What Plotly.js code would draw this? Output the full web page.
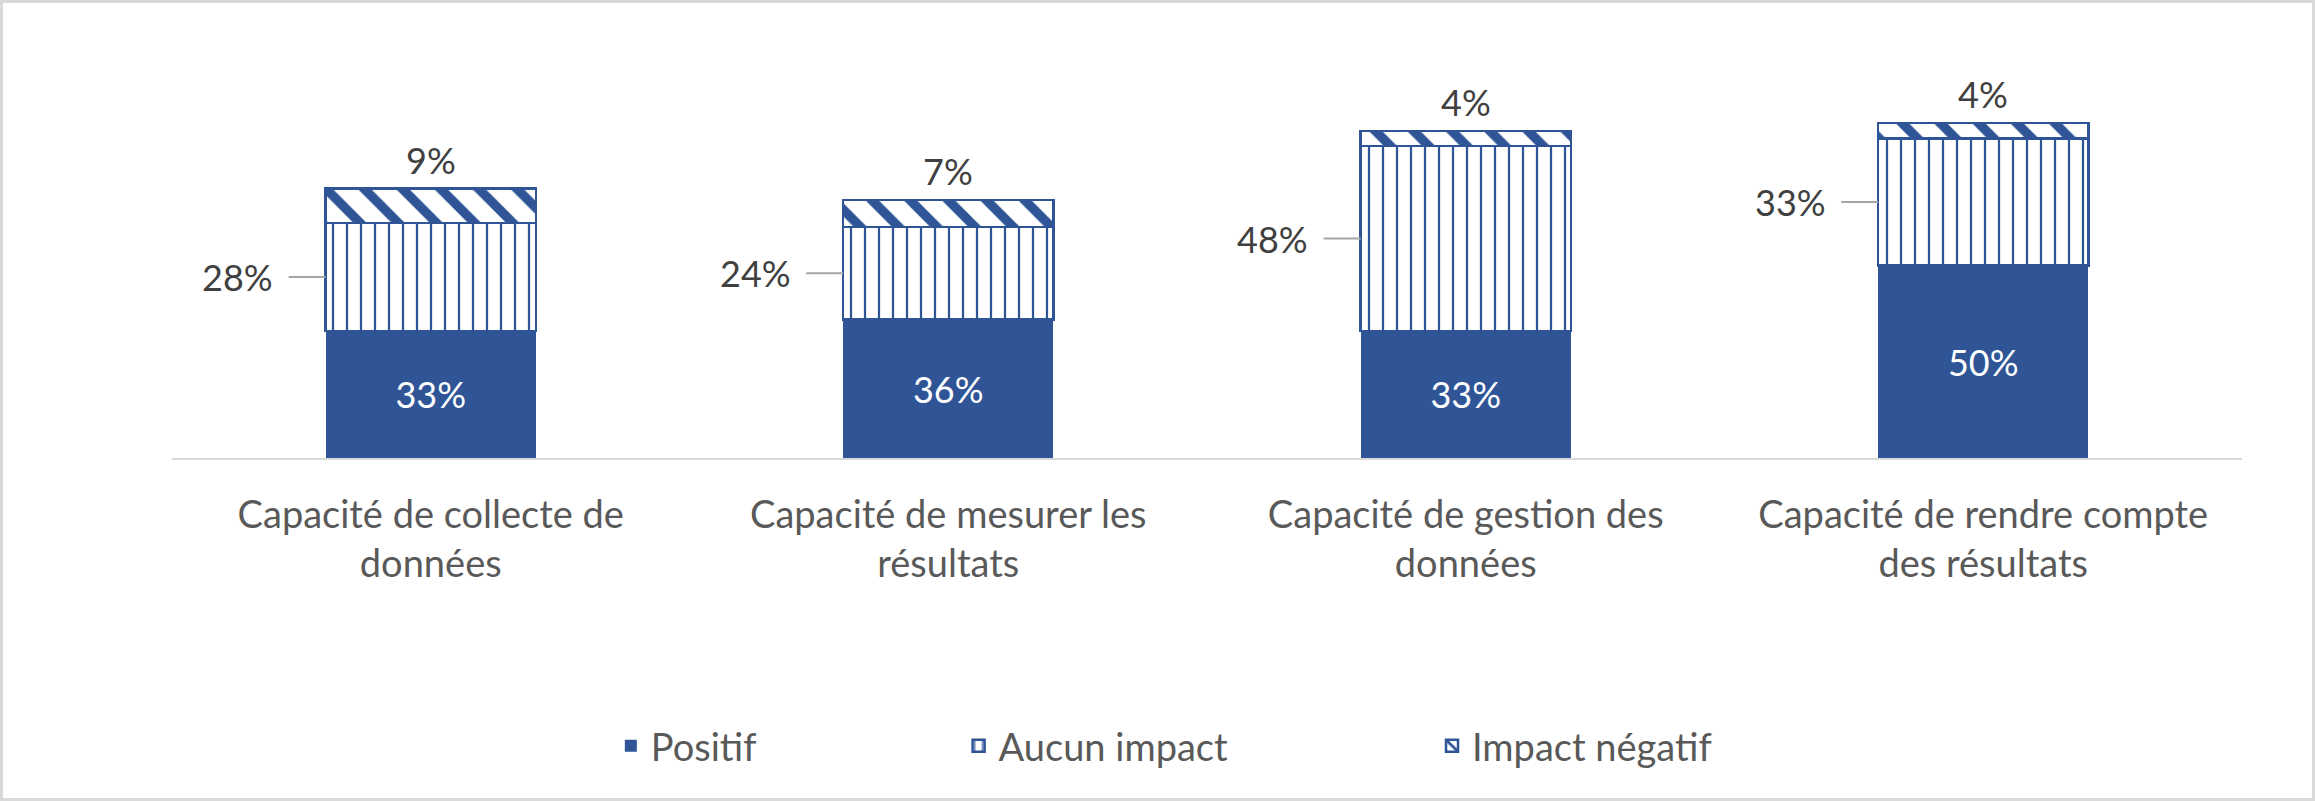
<!DOCTYPE html>
<html>
<head>
<meta charset="utf-8">
<script src="https://cdn.plot.ly/plotly-3.0.1.min.js"></script>
<style>
html,body{margin:0;padding:0;background:#fff;}
#wrap{position:relative;width:2315px;height:801px;}
#chart{position:absolute;left:0;top:0;width:2315px;height:801px;}
#frame{position:absolute;left:0;top:0;width:2315px;height:801px;box-sizing:border-box;border:3px solid #d9d9d9;pointer-events:none;}
</style>
</head>
<body>
<div id="wrap"><div id="chart"></div><div id="frame"></div></div>
<script>
const categories = [
  "Capacité de collecte de<br>données",
  "Capacité de mesurer les<br>résultats",
  "Capacité de gestion des<br>données",
  "Capacité de rendre compte<br>des résultats"
];
const seriesNames = ["Positif", "Aucun impact", "Impact négatif"];
const positif = [33, 36, 33, 50];
const aucunImpact = [28, 24, 48, 33];
const impactNegatif = [9, 7, 4, 4];

const BLUE = "#2F5597";
const FONT = "Lato, 'Open Sans', sans-serif";
const FS = 36;
const FS_AXIS = 38;
const BARGAP = 0.594;
const xIdx = categories.map((c, i) => i);
const pct = v => v + "%";

const traces = [
  {
    type: "bar", name: seriesNames[0], x: xIdx, y: positif,
    marker: {color: BLUE, line: {width: 0}},
    text: positif.map(pct), textposition: "inside", insidetextanchor: "middle",
    textfont: {family: FONT, size: FS, color: "#ffffff"},
    hoverinfo: "skip", legend: "legend"
  },
  {
    type: "bar", name: seriesNames[1], x: xIdx, y: aucunImpact,
    marker: {color: "#ffffff", line: {color: BLUE, width: 2.5},
      pattern: {shape: "|", fgcolor: BLUE, bgcolor: "#ffffff", size: 14, solidity: 0.16, fillmode: "replace"}},
    textposition: "none",
    hoverinfo: "skip", legend: "legend2"
  },
  {
    type: "bar", name: seriesNames[2], x: xIdx, y: impactNegatif,
    marker: {color: "#ffffff", line: {color: BLUE, width: 2.5},
      pattern: {shape: "\\", fgcolor: BLUE, bgcolor: "#ffffff", size: 27, solidity: 0.35, fillmode: "replace"}},
    textposition: "none",
    hoverinfo: "skip", legend: "legend3"
  }
];

const halfBar = (1 - BARGAP) / 2;
const sideLabels = xIdx.map((i) => ({
  x: i - halfBar, y: positif[i] + aucunImpact[i] / 2,
  xref: "x", yref: "y",
  text: pct(aucunImpact[i]),
  showarrow: true, arrowhead: 0, arrowwidth: 2, arrowcolor: "#a6a6a6",
  ax: -88, ay: 0, startstandoff: 14,
  font: {family: FONT, size: FS, color: "#404040"}
}));
const topLabels = xIdx.map((i) => ({
  x: i, y: positif[i] + aucunImpact[i] + impactNegatif[i],
  xref: "x", yref: "y", yanchor: "middle", yshift: 29,
  text: pct(impactNegatif[i]), showarrow: false,
  font: {family: FONT, size: FS, color: "#404040"}
}));

const legendBase = {orientation: "h", yanchor: "middle", xanchor: "left", y: -0.748,
  font: {family: FONT, size: FS_AXIS, color: "#595959"}, bgcolor: "rgba(0,0,0,0)"};

const layout = {
  width: 2315, height: 801,
  margin: {l: 172, r: 73, t: 73, b: 343},
  paper_bgcolor: "#ffffff", plot_bgcolor: "#ffffff",
  barmode: "stack", bargap: BARGAP,
  showlegend: true,
  legend: Object.assign({}, legendBase, {x: 0.212}),
  legend2: Object.assign({}, legendBase, {x: 0.380}),
  legend3: Object.assign({}, legendBase, {x: 0.6087}),
  xaxis: {
    tickmode: "array", tickvals: xIdx, ticktext: categories,
    range: [-0.5, categories.length - 0.5],
    showline: true, linecolor: "#d9d9d9", linewidth: 2,
    ticks: "", showgrid: false, zeroline: false,
    ticklabelstandoff: 22,
    tickfont: {family: FONT, size: FS_AXIS, color: "#595959"}
  },
  yaxis: {range: [0, 100], visible: false, showgrid: false, zeroline: false},
  annotations: sideLabels.concat(topLabels),
  font: {family: FONT}
};

Plotly.newPlot("chart", traces, layout, {staticPlot: true, displayModeBar: false});
</script>
</body>
</html>
